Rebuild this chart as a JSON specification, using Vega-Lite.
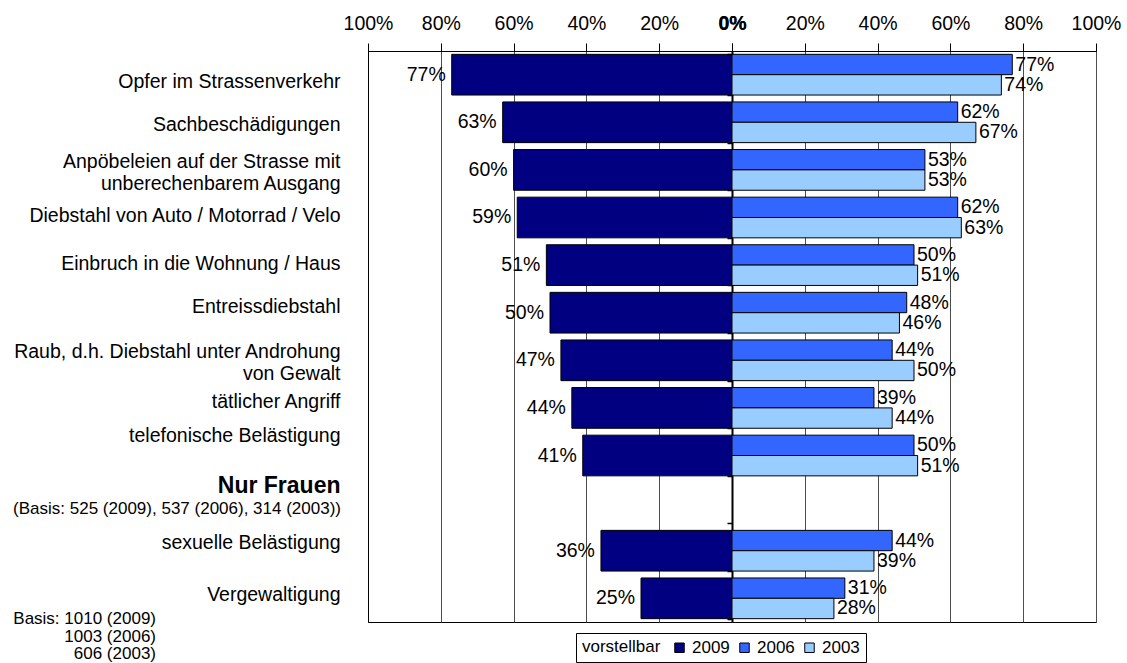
{
  "$schema": "https://vega.github.io/schema/vega-lite/v6.json",
  "background": "white",
  "padding": {"left": 12, "top": 12, "right": 5, "bottom": 0},
  "bounds": "flush",
  "config": {
    "font": "Liberation Sans",
    "view": {"stroke": "black", "strokeWidth": 1},
    "axis": {"labelFont": "Liberation Sans", "labelColor": "black", "domainColor": "black", "tickColor": "black", "gridColor": "#4d4d4d", "gridWidth": 1},
    "text": {"font": "Liberation Sans", "fontSize": 19.5, "color": "black"}
  },
  "datasets": {
    "rows": [
      {"cat": "Opfer im Strassenverkehr", "year": "2009", "value": 0.77},
      {"cat": "Opfer im Strassenverkehr", "year": "2006", "value": 0.77},
      {"cat": "Opfer im Strassenverkehr", "year": "2003", "value": 0.74},
      {"cat": "Sachbeschädigungen", "year": "2009", "value": 0.63},
      {"cat": "Sachbeschädigungen", "year": "2006", "value": 0.62},
      {"cat": "Sachbeschädigungen", "year": "2003", "value": 0.67},
      {"cat": "Anpöbeleien auf der Strasse mit|unberechenbarem Ausgang", "year": "2009", "value": 0.60},
      {"cat": "Anpöbeleien auf der Strasse mit|unberechenbarem Ausgang", "year": "2006", "value": 0.53},
      {"cat": "Anpöbeleien auf der Strasse mit|unberechenbarem Ausgang", "year": "2003", "value": 0.53},
      {"cat": "Diebstahl von Auto / Motorrad / Velo", "year": "2009", "value": 0.59},
      {"cat": "Diebstahl von Auto / Motorrad / Velo", "year": "2006", "value": 0.62},
      {"cat": "Diebstahl von Auto / Motorrad / Velo", "year": "2003", "value": 0.63},
      {"cat": "Einbruch in die Wohnung / Haus", "year": "2009", "value": 0.51},
      {"cat": "Einbruch in die Wohnung / Haus", "year": "2006", "value": 0.50},
      {"cat": "Einbruch in die Wohnung / Haus", "year": "2003", "value": 0.51},
      {"cat": "Entreissdiebstahl", "year": "2009", "value": 0.50},
      {"cat": "Entreissdiebstahl", "year": "2006", "value": 0.48},
      {"cat": "Entreissdiebstahl", "year": "2003", "value": 0.46},
      {"cat": "Raub, d.h. Diebstahl unter Androhung|von Gewalt", "year": "2009", "value": 0.47},
      {"cat": "Raub, d.h. Diebstahl unter Androhung|von Gewalt", "year": "2006", "value": 0.44},
      {"cat": "Raub, d.h. Diebstahl unter Androhung|von Gewalt", "year": "2003", "value": 0.50},
      {"cat": "tätlicher Angriff", "year": "2009", "value": 0.44},
      {"cat": "tätlicher Angriff", "year": "2006", "value": 0.39},
      {"cat": "tätlicher Angriff", "year": "2003", "value": 0.44},
      {"cat": "telefonische Belästigung", "year": "2009", "value": 0.41},
      {"cat": "telefonische Belästigung", "year": "2006", "value": 0.50},
      {"cat": "telefonische Belästigung", "year": "2003", "value": 0.51},
      {"cat": "sexuelle Belästigung", "year": "2009", "value": 0.36},
      {"cat": "sexuelle Belästigung", "year": "2006", "value": 0.44},
      {"cat": "sexuelle Belästigung", "year": "2003", "value": 0.39},
      {"cat": "Vergewaltigung", "year": "2009", "value": 0.25},
      {"cat": "Vergewaltigung", "year": "2006", "value": 0.31},
      {"cat": "Vergewaltigung", "year": "2003", "value": 0.28}
    ]
  },
  "spacing": 0,
  "resolve": {"scale": {"x": "independent", "y": "shared", "color": "shared"}, "axis": {"x": "independent", "y": "independent"}},
  "hconcat": [
    {
      "width": 364,
      "height": 571,
      "layer": [
        {
          "data": {"name": "rows"},
          "transform": [{"filter": "datum.year == '2009'"}],
          "mark": {"type": "bar", "stroke": "black", "strokeWidth": 1},
          "encoding": {
            "y": {
              "field": "cat", "type": "nominal",
              "scale": {
                "domain": ["Opfer im Strassenverkehr", "Sachbeschädigungen", "Anpöbeleien auf der Strasse mit|unberechenbarem Ausgang", "Diebstahl von Auto / Motorrad / Velo", "Einbruch in die Wohnung / Haus", "Entreissdiebstahl", "Raub, d.h. Diebstahl unter Androhung|von Gewalt", "tätlicher Angriff", "telefonische Belästigung", "Nur Frauen", "sexuelle Belästigung", "Vergewaltigung"],
                "paddingInner": 0.145, "paddingOuter": 0.07
              },
              "axis": {
                "title": null, "orient": "left", "ticks": false, "domain": true, "domainColor": "black",
                "labelExpr": "split(datum.value, '|')",
                "labelFontSize": {"condition": {"test": "datum.value == 'Nur Frauen'", "value": 23}, "value": 19.5},
                "labelFontWeight": {"condition": {"test": "datum.value == 'Nur Frauen'", "value": "bold"}, "value": "normal"},
                "labelOffset": {"condition": [
                  {"test": "datum.value == 'Opfer im Strassenverkehr'", "value": 7},
                  {"test": "datum.value == 'Sachbeschädigungen'", "value": 3},
                  {"test": "indexof(datum.value, '|') >= 0", "value": -8},
                  {"test": "datum.value == 'Diebstahl von Auto / Motorrad / Velo'", "value": -1},
                  {"test": "datum.value == 'Einbruch in die Wohnung / Haus'", "value": -1},
                  {"test": "datum.value == 'Entreissdiebstahl'", "value": -6},
                  {"test": "datum.value == 'tätlicher Angriff'", "value": -6},
                  {"test": "datum.value == 'telefonische Belästigung'", "value": -20},
                  {"test": "datum.value == 'Nur Frauen'", "value": -17},
                  {"test": "datum.value == 'sexuelle Belästigung'", "value": -8},
                  {"test": "datum.value == 'Vergewaltigung'", "value": -3}
                ], "value": 0},
                "labelLineHeight": 22,
                "labelPadding": 28,
                "labelLimit": 500
              }
            },
            "x": {
              "field": "value", "type": "quantitative",
              "scale": {"domain": [0, 1], "reverse": true, "nice": false},
              "axis": {
                "title": null, "orient": "top", "values": [0, 0.2, 0.4, 0.6, 0.8, 1], "format": ".0%",
                "labelFontSize": 19.5, "labelFlush": false, "labelOverlap": false,
                "labelFontWeight": {"condition": {"test": "datum.value == 0", "value": "bold"}, "value": "normal"},
                "tickSize": 8, "labelPadding": 10, "grid": true
              }
            },
            "color": {
              "field": "year", "type": "nominal",
              "scale": {"domain": ["2009", "2006", "2003"], "range": ["#000080", "#3366FF", "#99CCFF"]},
              "legend": {
                "title": "vorstellbar", "orient": "none", "legendX": 208, "legendY": 582,
                "direction": "horizontal", "titleOrient": "left", "titleFontWeight": "normal",
                "titleFontSize": 17, "titleFont": "Liberation Sans", "titleColor": "black", "titlePadding": 10,
                "labelFontSize": 17, "labelFont": "Liberation Sans", "labelColor": "black", "labelOffset": 4,
                "symbolType": "square", "symbolSize": 90, "symbolStrokeColor": "black", "symbolStrokeWidth": 1,
                "columnPadding": 6, "padding": 6, "strokeColor": "black", "fillColor": "white"
              }
            }
          }
        },
        {
          "data": {"name": "rows"},
          "transform": [{"filter": "datum.year == '2009'"}],
          "mark": {"type": "text", "align": "right", "baseline": "middle", "dx": -6},
          "encoding": {
            "y": {"field": "cat", "type": "nominal"},
            "x": {"field": "value", "type": "quantitative"},
            "text": {"field": "value", "type": "quantitative", "format": ".0%"}
          }
        },
        {
          "data": {"values": [{"cat": "Nur Frauen", "note": "(Basis: 525 (2009), 537 (2006), 314 (2003))"}]},
          "mark": {"type": "text", "align": "right", "baseline": "middle", "fontSize": 17, "dx": -27, "dy": 6, "clip": false},
          "encoding": {
            "y": {"field": "cat", "type": "nominal"},
            "x": {"datum": 1},
            "text": {"field": "note", "type": "nominal"}
          }
        },
        {
          "data": {"values": [{"cat": "Vergewaltigung"}]},
          "mark": {"type": "text", "align": "right", "baseline": "top", "fontSize": 17, "lineHeight": 17.5, "dx": -212, "dy": 13, "clip": false,
            "text": ["Basis: 1010 (2009)", "1003 (2006)", "606 (2003)"]},
          "encoding": {
            "y": {"field": "cat", "type": "nominal"},
            "x": {"datum": 1}
          }
        }
      ]
    },
    {
      "width": 364,
      "height": 571,
      "data": {"name": "rows"},
      "transform": [{"filter": "datum.year != '2009'"}],
      "encoding": {
        "y": {
          "field": "cat", "type": "nominal",
          "axis": {"title": null, "orient": "left", "labels": false, "ticks": true, "tickBand": "extent", "tickSize": 5, "tickWidth": 1.5, "domain": true, "domainWidth": 2, "domainColor": "black", "minExtent": 0, "maxExtent": 0, "labelPadding": 0}
        },
        "yOffset": {"field": "year", "type": "nominal", "scale": {"domain": ["2006", "2003"], "paddingInner": 0, "paddingOuter": 0}},
        "x": {
          "field": "value", "type": "quantitative",
          "scale": {"domain": [0, 1], "nice": false},
          "axis": {
            "title": null, "orient": "top", "values": [0, 0.2, 0.4, 0.6, 0.8, 1], "format": ".0%",
            "labelFontSize": 19.5, "labelFlush": false, "labelOverlap": false,
            "labelFontWeight": {"condition": {"test": "datum.value == 0", "value": "bold"}, "value": "normal"},
            "tickSize": 8, "labelPadding": 10, "grid": true
          }
        }
      },
      "layer": [
        {
          "mark": {"type": "bar", "stroke": "black", "strokeWidth": 1},
          "encoding": {
            "color": {"field": "year", "type": "nominal"}
          }
        },
        {
          "mark": {"type": "text", "align": "left", "baseline": "middle", "dx": 3},
          "encoding": {
            "text": {"field": "value", "type": "quantitative", "format": ".0%"}
          }
        }
      ]
    }
  ]
}
